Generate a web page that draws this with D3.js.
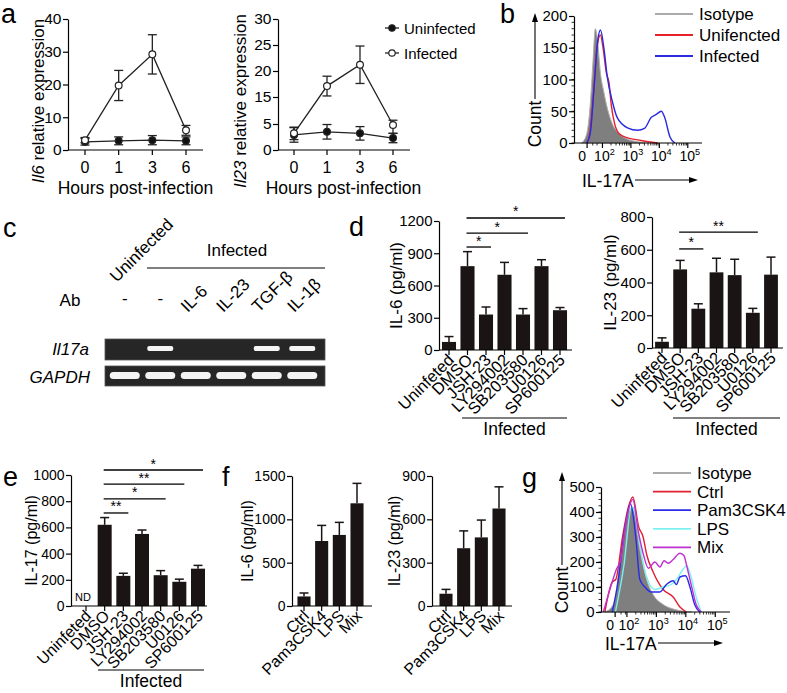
<!DOCTYPE html>
<html>
<head>
<meta charset="utf-8">
<script src="https://cdn.jsdelivr.net/npm/d3@7"></script>
<style>
body { margin: 0; background: #fff; }
svg { font-family: "Liberation Sans", Arial, Helvetica, sans-serif; }
.axis path, .axis line { stroke: #000; stroke-width: 1.2; }
.axis text { fill: #000; }
</style>
</head>
<body>
<svg id="fig" width="787" height="693"></svg>
<script>
// ---------------------------------------------------------------------------
// data
var hours = ["0", "1", "3", "6"];
var il6Uninfected = [2.5, 2.8, 3.0, 2.8];
var il6UninfectedSd = [1.0, 1.2, 1.4, 1.2];
var il6Infected = [3.0, 19.7, 29.2, 6.0];
var il6InfectedSd = [0.8, 4.6, 6.0, 1.5];
var il6Ticks = [0, 10, 20, 30, 40];
var il23Uninfected = [2.9, 3.5, 3.2, 2.3];
var il23UninfectedSd = [1.4, 1.4, 1.3, 0.9];
var il23Infected = [3.2, 17.1, 21.2, 4.8];
var il23InfectedSd = [1.2, 1.9, 3.6, 1.6];
var il23Ticks = [0, 5, 15, 20, 25, 30];   // the figure skips "10"

var gelLanes = ["-", "-", "IL-6", "IL-23", "TGF-β", "IL-1β"];
var il17aBand = [0, 1, 0, 0, 1, 1];
var gapdhBand = [1, 1, 1, 1, 1, 1];

var inhibitors = ["Uninfeted", "DMSO", "JSH-23", "LY294002", "SB203580", "U0126", "SP600125"];
var il6Inhib = [75, 780, 330, 700, 330, 780, 370];
var il6InhibSd = [50, 135, 70, 115, 55, 60, 25];
var il6InhibTicks = [0, 300, 600, 900, 1200];
var il6InhibSig = [[1, 6, 1228, "*"], [1, 4, 1088, "*"], [1, 2, 958, "*"]];
var il23Inhib = [38, 480, 240, 462, 445, 215, 448];
var il23InhibSd = [24, 55, 30, 86, 97, 27, 107];
var il23InhibTicks = [0, 200, 400, 600, 800];
var il23InhibSig = [[1, 5, 708, "**"], [1, 2, 605, "*"]];
var il17Inhib = [null, 620, 230, 550, 235, 185, 285];
var il17InhibSd = [0, 55, 20, 30, 35, 20, 25];
var il17InhibTicks = [0, 200, 400, 600, 800, 1000];
var il17InhibSig = [[1, 6, 1038, "*"], [1, 5, 931, "**"], [1, 4, 817, "*"], [1, 2, 710, "**"]];

var tlrs = ["Ctrl", "Pam3CSK4", "LPS", "Mix"];
var il6Tlr = [110, 750, 820, 1185];
var il6TlrSd = [40, 180, 145, 230];
var il6TlrTicks = [0, 500, 1000, 1500];
var il23Tlr = [85, 400, 475, 675];
var il23TlrSd = [30, 120, 120, 150];
var il23TlrTicks = [0, 300, 600, 900];

// flow histograms: [log10 position, count]
var flowBIso = [[1.27, 0], [1.45, 15], [1.57, 60], [1.67, 130], [1.75, 180], [1.83, 160], [1.93, 110], [2.05, 80], [2.17, 55], [2.35, 30], [2.58, 15], [2.88, 6], [3.24, 2], [3.5, 0]];
var flowBUninf = [[1.45, 0], [1.57, 20], [1.69, 80], [1.81, 150], [1.93, 170], [2.02, 150], [2.14, 110], [2.23, 95], [2.31, 60], [2.43, 30], [2.58, 15], [2.88, 8], [3.24, 5], [3.6, 2], [3.95, 0]];
var flowBInf = [[1.45, 0], [1.57, 15], [1.71, 90], [1.83, 160], [1.93, 178], [2.05, 150], [2.17, 104], [2.35, 65], [2.52, 40], [2.88, 24], [3.24, 20], [3.48, 23], [3.71, 40], [3.89, 45], [4.07, 50], [4.19, 40], [4.37, 10], [4.55, 0]];
var flowBLegend = ["Isotype", "Unifencted", "Infected"];
var flowBTicks = [0, 50, 100, 150, 200];

var flowGIso = [[1.25, 0], [1.54, 30], [1.82, 250], [1.99, 370], [2.2, 420], [2.44, 250], [2.67, 130], [2.89, 70], [3.23, 30], [3.57, 12], [3.91, 3], [4.2, 0]];
var flowGCtrl = [[1.25, 0], [1.5, 120], [1.62, 130], [1.85, 300], [2.05, 420], [2.2, 460], [2.4, 340], [2.55, 300], [2.67, 230], [2.89, 160], [3.23, 90], [3.57, 60], [3.8, 20], [4.02, 0]];
var flowGPam = [[1.5, 0], [1.67, 100], [1.95, 350], [2.12, 433], [2.3, 300], [2.44, 130], [2.61, 100], [2.83, 80], [3.12, 80], [3.34, 110], [3.57, 125], [3.68, 110], [3.8, 140], [3.99, 145], [4.14, 100], [4.3, 30], [4.47, 0]];
var flowGLps = [[1.61, 0], [1.89, 180], [2.16, 420], [2.3, 380], [2.44, 270], [2.67, 140], [2.95, 90], [3.23, 100], [3.51, 110], [3.68, 130], [3.9, 170], [4.03, 185], [4.18, 140], [4.35, 60], [4.52, 0]];
var flowGMix = [[1.2, 0], [1.5, 120], [1.64, 170], [1.77, 200], [2.0, 380], [2.2, 450], [2.39, 320], [2.56, 230], [2.73, 175], [2.95, 200], [3.12, 180], [3.26, 205], [3.4, 195], [3.57, 210], [3.8, 235], [3.94, 225], [4.02, 190], [4.18, 110], [4.35, 30], [4.52, 0]];
var flowGLegend = ["Isotype", "Ctrl", "Pam3CSK4", "LPS", "Mix"];
var flowGTicks = [0, 100, 200, 300, 400, 500];

// ---------------------------------------------------------------------------

var svg = d3.select("#fig");

function panelLetter(t, x, y) {
    svg.append("text").attr("x", x).attr("y", y).attr("font-size", 27).text(t);
}

function yAxis(g, scale, x, ticks, fs) {
    g.append("g")
        .attr("class", "axis")
        .attr("transform", `translate(${x},0)`)
        .call(d3.axisLeft(scale).tickValues(ticks).tickFormat(d3.format("d")).tickSize(5).tickSizeOuter(0).tickPadding(1.5))
        .call(a => a.selectAll("text").attr("font-size", fs).attr("font-family", null));
}

function rotLabel(g, x, y, txt, fs, italicHead) {
    var t = g.append("text")
        .attr("transform", `translate(${x},${y}) rotate(-90)`)
        .attr("text-anchor", "middle")
        .attr("font-size", fs);
    if (italicHead) {
        t.append("tspan").attr("font-style", "italic").text(italicHead);
    }
    t.append("tspan").text(txt);
}

// ---- panel a: time course ----
function lineChart(o) {
    var g = svg.append("g");
    var x = d3.scalePoint().domain(hours).range([o.px0, o.px1]);
    yAxis(g, o.y, o.ax, o.ticks, 15.5);
    g.append("line").attr("x1", o.ax).attr("x2", o.axEnd).attr("y1", o.base).attr("y2", o.base)
        .attr("stroke", "#000").attr("stroke-width", 1.2);
    hours.forEach(function (h) {
        g.append("line").attr("x1", x(h)).attr("x2", x(h)).attr("y1", o.base).attr("y2", o.base + 5)
            .attr("stroke", "#000").attr("stroke-width", 1.2);
        g.append("text").attr("x", x(h)).attr("y", o.base + 23).attr("text-anchor", "middle")
            .attr("font-size", 16).text(h);
    });
    g.append("text").attr("x", (o.px0 + o.px1) / 2).attr("y", o.base + 44).attr("text-anchor", "middle")
        .attr("font-size", 17.5).text("Hours post-infection");
    rotLabel(g, o.labelX, 101, " relative expression", 17, o.gene);

    var line = d3.line().x((d, i) => x(hours[i])).y(d => o.y(d));
    [[o.uninf, o.uninfSd, "#111"], [o.inf, o.infSd, "#fff"]].forEach(function (s) {
        g.append("path").attr("d", line(s[0])).attr("fill", "none").attr("stroke", "#222").attr("stroke-width", 1.3);
        s[0].forEach(function (v, i) {
            var cx = x(hours[i]);
            var top = o.y(v + s[1][i]), bot = o.y(v - s[1][i]);
            g.append("line").attr("x1", cx).attr("x2", cx).attr("y1", top).attr("y2", bot).attr("stroke", "#222").attr("stroke-width", 1.3);
            g.append("line").attr("x1", cx - 4.5).attr("x2", cx + 4.5).attr("y1", top).attr("y2", top).attr("stroke", "#222").attr("stroke-width", 1.3);
            g.append("line").attr("x1", cx - 4.5).attr("x2", cx + 4.5).attr("y1", bot).attr("y2", bot).attr("stroke", "#222").attr("stroke-width", 1.3);
        });
        s[0].forEach(function (v, i) {
            g.append("circle").attr("cx", x(hours[i])).attr("cy", o.y(v)).attr("r", 3.4)
                .attr("fill", s[2]).attr("stroke", "#222").attr("stroke-width", 1.2);
        });
    });
}

lineChart({
    px0: 85, px1: 186, ax: 68, axEnd: 203, base: 150,
    y: d3.scaleLinear().domain([0, 40]).range([150, 19]),
    ticks: il6Ticks, gene: "Il6", labelX: 44,
    uninf: il6Uninfected, uninfSd: il6UninfectedSd, inf: il6Infected, infSd: il6InfectedSd
});
lineChart({
    px0: 294, px1: 393, ax: 278, axEnd: 410, base: 150,
    y: d3.scaleLinear().domain([0, 5, 15, 30]).range([150, 124, 97, 19]),
    ticks: il23Ticks, gene: "Il23", labelX: 246,
    uninf: il23Uninfected, uninfSd: il23UninfectedSd, inf: il23Infected, infSd: il23InfectedSd
});
// legend of panel a
[["Uninfected", "#111", 28], ["Infected", "#fff", 53]].forEach(function (l) {
    svg.append("line").attr("x1", 385).attr("x2", 399).attr("y1", l[2]).attr("y2", l[2]).attr("stroke", "#222").attr("stroke-width", 1.3);
    svg.append("circle").attr("cx", 392).attr("cy", l[2]).attr("r", 3.2).attr("fill", l[1]).attr("stroke", "#222").attr("stroke-width", 1.2);
    svg.append("text").attr("x", 404).attr("y", l[2] + 5.5).attr("font-size", 15).text(l[0]);
});
panelLetter("a", 1, 23);

// ---- flow histograms ----
function supTick(sel, label) {
    if (label === "0") { sel.text("0"); return; }
    sel.append("tspan").text("10");
    sel.append("tspan").attr("font-size", "0.65em").attr("dy", "-0.55em").text(label);
}

function flow(o) {
    var g = svg.append("g");
    var x = d3.scaleLinear().domain([o.u0, 5.5]).range([o.x0, o.x1]);
    var y = d3.scaleLinear().domain([0, o.ymax]).range([o.y0, o.y1]);

    // curves first, axes on top
    var area = d3.area().x(d => x(d[0])).y0(y(0)).y1(d => y(d[1])).curve(d3.curveMonotoneX);
    var line = d3.line().x(d => x(d[0])).y(d => y(d[1])).curve(d3.curveMonotoneX);
    g.append("path").attr("d", area(o.iso)).attr("fill", "#7f7f7f").attr("stroke", "#b0b0b0").attr("stroke-width", 1);
    o.series.forEach(function (s) {
        g.append("path").attr("d", line(s[0])).attr("fill", "none").attr("stroke", s[1]).attr("stroke-width", 1.4);
    });

    yAxis(g, y, o.x0, o.yticks, 15);
    d3.range(0, o.ymax, o.ymax / 20).forEach(function (v) {
        g.append("line").attr("x1", o.x0 - 2.5).attr("x2", o.x0).attr("y1", y(v)).attr("y2", y(v)).attr("stroke", "#000").attr("stroke-width", 0.8);
    });
    g.append("line").attr("x1", o.x0).attr("x2", o.x1).attr("y1", o.y0).attr("y2", o.y0).attr("stroke", "#000").attr("stroke-width", 1.2);
    // minor log ticks
    [2, 3, 4].forEach(function (d) {
        d3.range(2, 10).forEach(function (k) {
            var u = d + Math.log10(k);
            g.append("line").attr("x1", x(u)).attr("x2", x(u)).attr("y1", o.y0).attr("y2", o.y0 + 2.5).attr("stroke", "#000").attr("stroke-width", 0.8);
        });
    });
    [o.zeroU + 0.2, o.zeroU + 0.35].forEach(function (u) {
        g.append("line").attr("x1", x(u)).attr("x2", x(u)).attr("y1", o.y0).attr("y2", o.y0 + 2.5).attr("stroke", "#000").attr("stroke-width", 0.8);
    });
    [[o.zeroU, "0"], [2, "2"], [3, "3"], [4, "4"], [5, "5"]].forEach(function (t) {
        g.append("line").attr("x1", x(t[0])).attr("x2", x(t[0])).attr("y1", o.y0).attr("y2", o.y0 + 5).attr("stroke", "#000").attr("stroke-width", 1.2);
        g.append("text").attr("x", x(t[0]) + (t[1] === "0" ? -5 : 2)).attr("y", o.y0 + 17.5).attr("text-anchor", "middle").attr("font-size", 14)
            .call(supTick, t[1]);
    });

    // axis titles with arrows
    g.append("text").attr("x", o.titleX).attr("y", o.titleY + 7).attr("font-size", 17.5).text("IL-17A");
    g.append("line").attr("x1", o.titleX + 53).attr("x2", o.arrowX).attr("y1", o.titleY).attr("y2", o.titleY).attr("stroke", "#000").attr("stroke-width", 1.1);
    g.append("path").attr("d", `M${o.arrowX + 4},${o.titleY}l-9,-3v6z`).attr("fill", "#000");
    g.append("text").attr("transform", `translate(${o.countX + 6},${o.countY}) rotate(-90)`)
        .attr("text-anchor", "middle").attr("font-size", 17.5).text("Count");
    g.append("line").attr("x1", o.countX).attr("x2", o.countX).attr("y1", o.countY - 25).attr("y2", o.countTop + 4).attr("stroke", "#000").attr("stroke-width", 1.1);
    g.append("path").attr("d", `M${o.countX},${o.countTop - 2}l-3,9h6z`).attr("fill", "#000");

    // legend
    o.legend.forEach(function (name, i) {
        var ly = o.legY + i * o.legStep;
        g.append("line").attr("x1", o.legX).attr("x2", o.legX + 38).attr("y1", ly).attr("y2", ly)
            .attr("stroke", o.legColors[i]).attr("stroke-width", 1.8);
        g.append("text").attr("x", o.legX + 44).attr("y", ly + 6).attr("font-size", 17).text(name);
    });
}

flow({
    u0: 1.0, zeroU: 1.46, x0: 574, x1: 702, y0: 143, y1: 16, ymax: 200, yticks: flowBTicks,
    iso: flowBIso, series: [[flowBUninf, "#e8202a"], [flowBInf, "#2a2ae0"]],
    titleX: 582, titleY: 180, arrowX: 694, countX: 535, countY: 124, countTop: 15,
    legend: flowBLegend, legColors: ["#aaa", "#e8202a", "#2a2ae0"], legX: 655, legY: 14, legStep: 21
});
panelLetter("b", 500, 23);

flow({
    u0: 1.12, zeroU: 1.6, x0: 601, x1: 730, y0: 612, y1: 487, ymax: 500, yticks: flowGTicks,
    iso: flowGIso, series: [[flowGCtrl, "#e02030"], [flowGLps, "#7ff0f0"], [flowGPam, "#2a2ae8"], [flowGMix, "#c030d0"]],
    titleX: 605, titleY: 643, arrowX: 719, countX: 562, countY: 590, countTop: 474,
    legend: flowGLegend, legColors: ["#aaa", "#e02030", "#2a2ae8", "#7ff0f0", "#c030d0"], legX: 653, legY: 473, legStep: 18.6
});
panelLetter("g", 522, 487);

// ---- panel c: gel ----
(function () {
    var g = svg.append("g");
    var x = d3.scaleBand().domain(d3.range(gelLanes.length)).range([107, 320]).paddingInner(0.2).paddingOuter(0.1);
    var c = i => x(i) + x.bandwidth() / 2;
    g.append("rect").attr("x", 105).attr("y", 339).attr("width", 220).attr("height", 21).attr("fill", "#262626").attr("stroke", "#555").attr("stroke-width", 0.8);
    g.append("rect").attr("x", 105).attr("y", 366).attr("width", 220).attr("height", 20).attr("fill", "#262626").attr("stroke", "#555").attr("stroke-width", 0.8);
    il17aBand.forEach(function (b, i) {
        if (!b) return;
        g.append("rect").attr("x", c(i) - 13).attr("y", 346).attr("width", 26).attr("height", 5).attr("rx", 2).attr("fill", "#f4f4f4");
    });
    gapdhBand.forEach(function (b, i) {
        if (!b) return;
        g.append("rect").attr("x", c(i) - 15).attr("y", 372).attr("width", 30).attr("height", 7).attr("rx", 3.5).attr("fill", "#f4f4f4");
    });
    g.append("text").attr("x", 89).attr("y", 355).attr("text-anchor", "end").attr("font-size", 17).attr("font-style", "italic").text("Il17a");
    g.append("text").attr("x", 90).attr("y", 383).attr("text-anchor", "end").attr("font-size", 17).attr("font-style", "italic").text("GAPDH");
    g.append("text").attr("x", 70).attr("y", 306).attr("text-anchor", "middle").attr("font-size", 17).text("Ab");
    gelLanes.forEach(function (l, i) {
        if (l === "-") {
            g.append("text").attr("x", c(i)).attr("y", 304).attr("text-anchor", "middle").attr("font-size", 17).text("-");
        } else {
            g.append("text").attr("transform", `translate(${c(i) - 8},${313}) rotate(-45)`).attr("font-size", 17).text(l);
        }
    });
    g.append("text").attr("transform", `translate(${c(0) - 8},${283}) rotate(-45)`).attr("font-size", 17).text("Uninfected");
    g.append("line").attr("x1", 147).attr("x2", 325).attr("y1", 268).attr("y2", 268).attr("stroke", "#000").attr("stroke-width", 1);
    g.append("text").attr("x", 237).attr("y", 256).attr("text-anchor", "middle").attr("font-size", 17).text("Infected");
})();
panelLetter("c", 3, 237);

// ---- bar charts ----
function barChart(o) {
    var g = svg.append("g");
    var step = (o.c1 - o.c0) / (o.cats.length - 1);
    var x = d3.scaleBand().domain(o.cats).range([o.c0 - step / 2, o.c1 + step / 2])
        .paddingInner(o.pad).paddingOuter(o.pad / 2);
    var y = d3.scaleLinear().domain([0, o.ticks[o.ticks.length - 1]]).range([o.y0, o.y1]);
    var cx = c => x(c) + x.bandwidth() / 2;

    // bars and error bars
    o.cats.forEach(function (c, i) {
        var v = o.vals[i];
        if (v === null) return;
        var top = y(v + o.sd[i]);
        g.append("line").attr("x1", cx(c)).attr("x2", cx(c)).attr("y1", y(v)).attr("y2", top).attr("stroke", "#1a1414").attr("stroke-width", 1.5);
        g.append("line").attr("x1", cx(c) - 4.5).attr("x2", cx(c) + 4.5).attr("y1", top).attr("y2", top).attr("stroke", "#1a1414").attr("stroke-width", 1.5);
        g.append("rect").attr("x", x(c)).attr("y", y(v)).attr("width", x.bandwidth()).attr("height", y(0) - y(v)).attr("fill", "#1a1414");
    });
    yAxis(g, y, o.ax, o.ticks, o.fs);
    g.append("line").attr("x1", o.ax).attr("x2", o.axEnd).attr("y1", o.y0).attr("y2", o.y0).attr("stroke", "#000").attr("stroke-width", 1.2);
    o.cats.forEach(function (c) {
        g.append("line").attr("x1", cx(c)).attr("x2", cx(c)).attr("y1", o.y0).attr("y2", o.y0 + 5).attr("stroke", "#000").attr("stroke-width", 1.2);
        g.append("text").attr("transform", `translate(${cx(c) + 6},${o.y0 + 11}) rotate(-45)`)
            .attr("text-anchor", "end").attr("font-size", o.xfs).text(c);
    });
    rotLabel(g, o.labelX, (o.y0 + o.y1) / 2, o.label, o.fs + 2);

    // significance brackets
    (o.sig || []).forEach(function (s) {
        var yy = y(s[2]);
        g.append("line").attr("x1", cx(o.cats[s[0]]) - 1).attr("x2", cx(o.cats[s[1]]) + 5).attr("y1", yy).attr("y2", yy).attr("stroke", "#000").attr("stroke-width", 1.3);
        g.append("text").attr("x", (cx(o.cats[s[0]]) + cx(o.cats[s[1]])) / 2 + 2).attr("y", yy - 1.5)
            .attr("text-anchor", "middle").attr("font-size", 14).text(s[3]);
    });
    if (o.infLine) {
        g.append("line").attr("x1", o.infLine[0]).attr("x2", o.infLine[1]).attr("y1", o.infLine[2]).attr("y2", o.infLine[2]).attr("stroke", "#000").attr("stroke-width", 1);
        g.append("text").attr("x", (o.infLine[0] + o.infLine[1]) / 2).attr("y", o.infLine[2] + 17).attr("text-anchor", "middle").attr("font-size", 17.5).text("Infected");
    }
    return { g: g, x: x, y: y, cx: cx };
}

barChart({
    cats: inhibitors, vals: il6Inhib, sd: il6InhibSd, ticks: il6InhibTicks, sig: il6InhibSig,
    c0: 449, c1: 560, pad: 0.24, y0: 350, y1: 221, ax: 439, axEnd: 572, fs: 15, xfs: 16.5,
    label: "IL-6 (pg/ml)", labelX: 402, infLine: [462, 567, 418]
});
barChart({
    cats: inhibitors, vals: il23Inhib, sd: il23InhibSd, ticks: il23InhibTicks, sig: il23InhibSig,
    c0: 662, c1: 771, pad: 0.24, y0: 348, y1: 217, ax: 652, axEnd: 783, fs: 15, xfs: 16.5,
    label: "IL-23 (pg/ml)", labelX: 616, infLine: [673, 780, 418]
});
panelLetter("d", 349, 236);

var e = barChart({
    cats: inhibitors, vals: il17Inhib, sd: il17InhibSd, ticks: il17InhibTicks, sig: il17InhibSig,
    c0: 86, c1: 198, pad: 0.25, y0: 606, y1: 475, ax: 71, axEnd: 207, fs: 14, xfs: 16,
    label: "IL-17 (pg/ml)", labelX: 37, infLine: [98, 204, 670]
});
e.g.append("text").attr("x", e.cx("Uninfeted") - 3).attr("y", 601).attr("text-anchor", "middle").attr("font-size", 11).text("ND");
panelLetter("e", 3, 486);

barChart({
    cats: tlrs, vals: il6Tlr, sd: il6TlrSd, ticks: il6TlrTicks,
    c0: 304, c1: 357, pad: 0.26, y0: 606, y1: 476, ax: 292, axEnd: 372, fs: 14, xfs: 16,
    label: "IL-6 (pg/ml)", labelX: 253
});
barChart({
    cats: tlrs, vals: il23Tlr, sd: il23TlrSd, ticks: il23TlrTicks,
    c0: 446, c1: 499, pad: 0.26, y0: 606, y1: 476, ax: 432, axEnd: 512, fs: 14, xfs: 16,
    label: "IL-23 (pg/ml)", labelX: 400
});
panelLetter("f", 222, 486);
</script>
</body>
</html>
